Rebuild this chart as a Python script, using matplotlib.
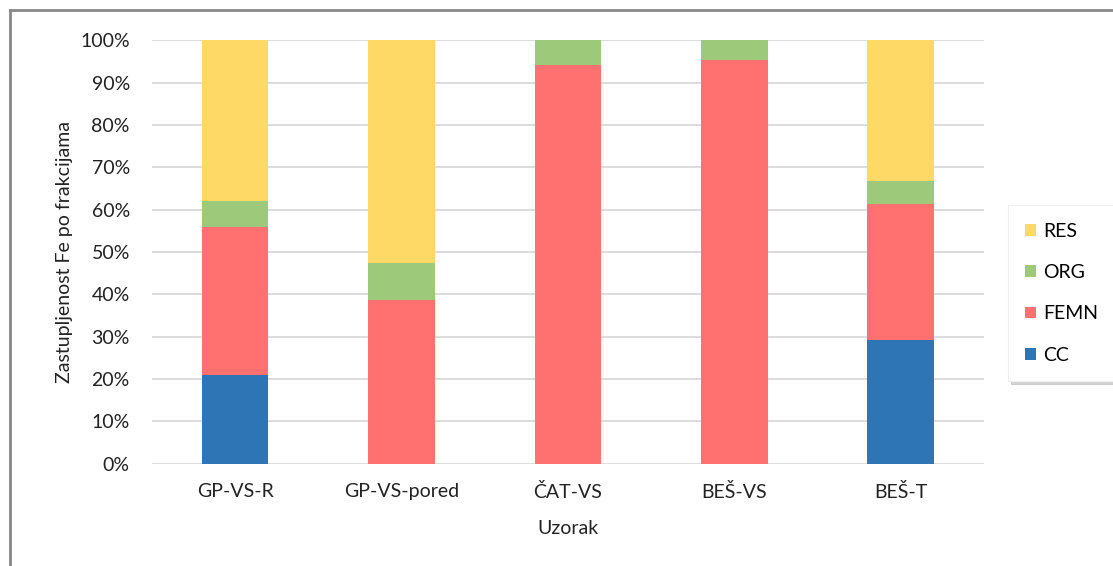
import matplotlib
matplotlib.use("Agg")
import matplotlib.pyplot as plt
from matplotlib.lines import Line2D
from matplotlib.ticker import PercentFormatter, MultipleLocator

categories = ["GP-VS-R", "GP-VS-pored", "ČAT-VS", "BEŠ-VS", "BEŠ-T"]
cc = [20.9, 0.0, 0.0, 0.0, 29.2]
femn = [35.0, 38.6, 94.2, 95.4, 32.2]
org = [6.1, 8.7, 5.8, 4.6, 5.3]
res = [38.0, 52.7, 0.0, 0.0, 33.3]

series = [("CC", cc, "#2E75B6"), ("FEMN", femn, "#FF7171"),
          ("ORG", org, "#9DC97B"), ("RES", res, "#FFD966")]

plt.rcParams['font.family'] = ['Lato', 'DejaVu Sans']
FS = 14

fig = plt.figure(figsize=(11.13, 5.66), dpi=100)
ax = fig.add_axes([0.1366, 0.181, 0.7474, 0.748])

x = list(range(len(categories)))
bottom = [0.0] * len(categories)
handles = []
for name, vals, col in series:
    b = ax.bar(x, vals, width=0.4, bottom=bottom, color=col, label=name, zorder=3)
    handles.append(b)
    bottom = [bb + v for bb, v in zip(bottom, vals)]

ax.set_xlim(-0.5, len(categories) - 0.5)
ax.set_ylim(0, 100)
ax.yaxis.set_major_locator(MultipleLocator(10))
ax.yaxis.set_major_formatter(PercentFormatter(decimals=0))
ax.set_xticks(x)
ax.set_xticklabels(categories)
ax.grid(axis='y', color='#D9D9D9', linewidth=1.3, zorder=0)
for s in ax.spines.values():
    s.set_visible(False)
ax.tick_params(axis='both', length=0, labelsize=FS, colors='#222222')
ax.tick_params(axis='y', pad=16)
ax.tick_params(axis='x', pad=14)
ax.set_ylabel("Zastupljenost Fe po frakcijama", fontsize=FS, color='#222222', labelpad=5)
ax.set_xlabel("Uzorak", fontsize=FS, color='#222222', labelpad=14)

leg = fig.legend(handles[::-1], [s[0] for s in series][::-1],
                 loc='center left', bbox_to_anchor=(0.902, 0.482),
                 frameon=True, fancybox=False, shadow={'color': '#BBBBBB', 'alpha': 0.6},
                 fontsize=FS, handlelength=0.55, handleheight=0.55, handletextpad=0.35,
                 labelspacing=1.25, borderpad=0.9, borderaxespad=0.2)
leg.get_frame().set_edgecolor('#EEEEEE')
leg.get_frame().set_linewidth(0.8)

# outer frame (top and left)
fig.add_artist(Line2D([10/1113, 1.0], [1 - 10/566, 1 - 10/566], color='#888888', lw=2, transform=fig.transFigure))
fig.add_artist(Line2D([10/1113, 10/1113], [0.0, 1 - 10/566], color='#888888', lw=2, transform=fig.transFigure))

fig.savefig("out.png", dpi=100)
